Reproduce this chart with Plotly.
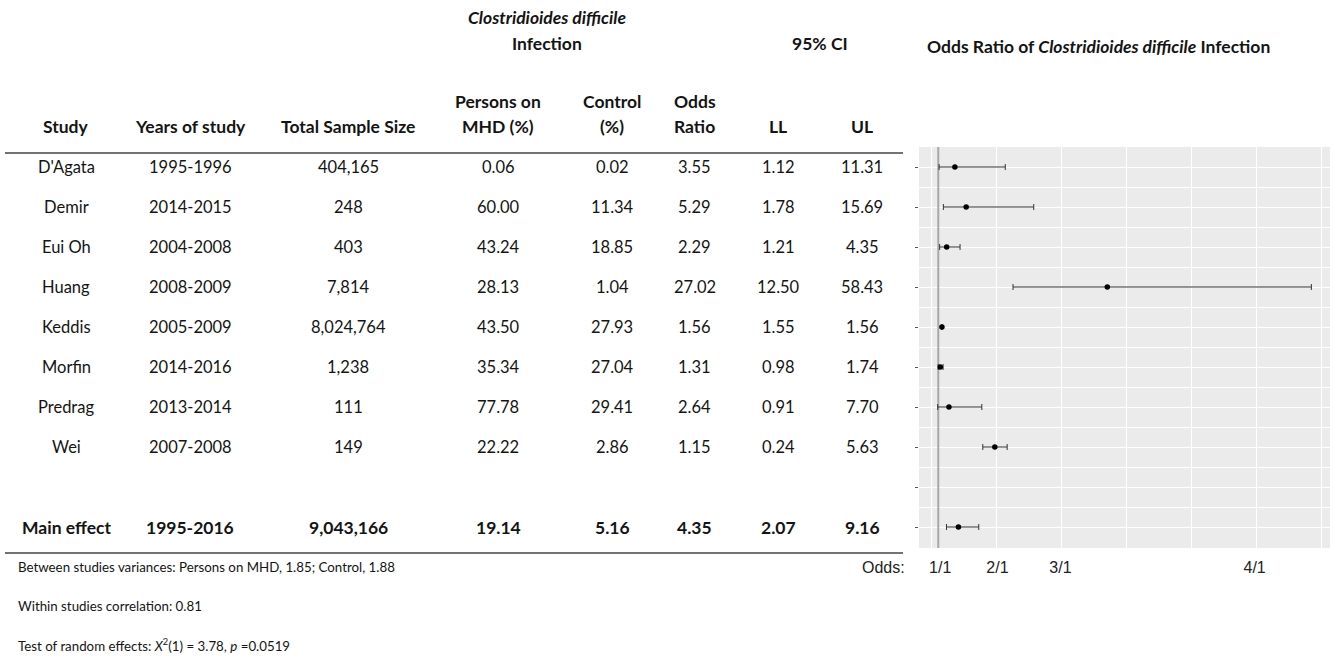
import plotly.graph_objects as go

W, H = 1333, 658

# ---------------- data ----------------
studies = ["D'Agata", "Demir", "Eui Oh", "Huang", "Keddis", "Morfin", "Predrag", "Wei"]
years = ["1995-1996", "2014-2015", "2004-2008", "2008-2009", "2005-2009", "2014-2016", "2013-2014", "2007-2008"]
sample_size = [404165, 248, 403, 7814, 8024764, 1238, 111, 149]
persons_mhd = [0.06, 60.00, 43.24, 28.13, 43.50, 35.34, 77.78, 22.22]
control_pct = [0.02, 11.34, 18.85, 1.04, 27.93, 27.04, 29.41, 2.86]
odds_ratio = [3.55, 5.29, 2.29, 27.02, 1.56, 1.31, 2.64, 1.15]
ci_ll = [1.12, 1.78, 1.21, 12.50, 1.55, 0.98, 0.91, 0.24]
ci_ul = [11.31, 15.69, 4.35, 58.43, 1.56, 1.74, 7.70, 5.63]

main_label = "Main effect"
main_years = "1995-2016"
main_size = 9043166
main_mhd = 19.14
main_control = 5.16
main_or = 4.35
main_ll = 2.07
main_ul = 9.16

# values as drawn in the forest panel
plot_rows = [0, 1, 2, 3, 4, 5, 6, 7, 9]
plot_or = [3.55, 5.29, 2.29, 27.02, 1.56, 1.31, 2.64, 9.7, 4.1]
plot_ll = [1.12, 1.78, 1.21, 12.50, 1.55, 0.98, 0.91, 7.85, 2.26]
plot_ul = [11.31, 15.69, 4.35, 58.43, 1.56, 1.74, 7.70, 11.6, 7.23]
reference_or = 1

axis_tick_pos = [1.3, 10.1, 19.8, 49.7]
axis_tick_text = ["1/1", "2/1", "3/1", "4/1"]

footer_lines = [
    "Between studies variances: Persons on MHD, 1.85; Control, 1.88",
    "Within studies correlation: 0.81",
    "Test of random effects: <i>X</i><sup>2</sup>(1) = 3.78, <i>p</i> =0.0519",
]

# ---------------- layout helpers ----------------
FONT = "Lato"
FS = 16.5
FSB = 17.5
TXT = "#141414"

col_x = [66, 190, 348, 498, 612, 695, 778, 862]


def px(x):
    return x / W


def py(y):
    return 1 - y / H


annotations = []


def add_text(x, y, text, size=FS, yref="paper", xanchor="center", font=FONT, color=TXT):
    annotations.append(dict(
        x=px(x), y=(py(y) if yref == "paper" else y), xref="paper", yref=yref,
        text=text, showarrow=False, xanchor=xanchor, yanchor="middle",
        font=dict(family=font, size=size, color=color),
    ))


# top headers
add_text(547, 18, "<b><i>Clostridioides difficile</i></b>", size=FSB)
add_text(547, 44, "<b>Infection</b>", size=FSB)
add_text(820, 44, "<b>95% CI</b>", size=FSB)
add_text(1098, 47, "<b>Odds Ratio of <i>Clostridioides difficile</i> Infection</b>", size=FSB)

# column headers
add_text(col_x[0], 127, "<b>Study</b>", size=FSB)
add_text(col_x[1], 127, "<b>Years of study</b>", size=FSB)
add_text(col_x[2], 127, "<b>Total Sample Size</b>", size=FSB)
add_text(col_x[3], 101, "<b>Persons on</b>", size=FSB)
add_text(col_x[3], 127, "<b>MHD (%)</b>", size=FSB)
add_text(col_x[4], 101, "<b>Control</b>", size=FSB)
add_text(col_x[4], 127, "<b>(%)</b>", size=FSB)
add_text(col_x[5], 101, "<b>Odds</b>", size=FSB)
add_text(col_x[5], 127, "<b>Ratio</b>", size=FSB)
add_text(col_x[6], 127, "<b>LL</b>", size=FSB)
add_text(col_x[7], 127, "<b>UL</b>", size=FSB)

# body rows
for i in range(len(studies)):
    vals = [studies[i], years[i], f"{sample_size[i]:,}", f"{persons_mhd[i]:.2f}",
            f"{control_pct[i]:.2f}", f"{odds_ratio[i]:.2f}", f"{ci_ll[i]:.2f}", f"{ci_ul[i]:.2f}"]
    for cx, v in zip(col_x, vals):
        add_text(cx, i, v, yref="y")

main_vals = [main_label, main_years, f"{main_size:,}", f"{main_mhd:.2f}", f"{main_control:.2f}",
             f"{main_or:.2f}", f"{main_ll:.2f}", f"{main_ul:.2f}"]
for cx, v in zip(col_x, main_vals):
    add_text(cx, 9, f"<b>{v}</b>", yref="y", size=FSB)

# footer
for k, line in enumerate(footer_lines):
    add_text(16, 567 + 39 * k, line, size=13.3, xanchor="left")

# "Odds:" label
add_text(907, 567, "Odds:", size=16, xanchor="right", font="Liberation Sans", color="#222")

# ---------------- figure ----------------
fig = go.Figure()
fig.add_trace(go.Scatter(
    x=[reference_or, reference_or], y=[-0.5, 9.525], mode="lines",
    line=dict(color="#a8a8a8", width=2), showlegend=False, hoverinfo="skip",
))
fig.add_trace(go.Scatter(
    x=plot_or, y=plot_rows, mode="markers",
    marker=dict(color="black", size=5.5),
    error_x=dict(type="data", symmetric=False,
                 array=[u - o for u, o in zip(plot_ul, plot_or)],
                 arrayminus=[o - l for o, l in zip(plot_or, plot_ll)],
                 color="#333333", thickness=1, width=3),
    showlegend=False, hoverinfo="skip",
))

shapes = [
    dict(type="line", xref="paper", yref="paper", x0=px(5), x1=px(903), y0=py(153), y1=py(153),
         line=dict(color="#444444", width=1.5)),
    dict(type="line", xref="paper", yref="paper", x0=px(5), x1=px(903), y0=py(553), y1=py(553),
         line=dict(color="#444444", width=1.5)),
]

fig.update_layout(
    width=W, height=H, autosize=False,
    margin=dict(l=0, r=0, t=0, b=0),
    paper_bgcolor="white", plot_bgcolor="#EBEBEB",
    annotations=annotations, shapes=shapes,
    xaxis=dict(
        domain=[px(919), px(1330)], range=[-1.97, 61.3],
        tickvals=axis_tick_pos, ticktext=axis_tick_text,
        showgrid=False, zeroline=False, ticks="", showline=False,
        ticklabelstandoff=8,
        tickfont=dict(family="Liberation Sans", size=16, color="#222"),
        minor=dict(tickvals=[0, 10, 20, 30, 40, 50, 60], showgrid=True,
                   gridcolor="white", gridwidth=1.2, ticks=""),
        fixedrange=True,
    ),
    yaxis=dict(
        domain=[py(548), py(147)], range=[9.525, -0.5],
        tickvals=list(range(10)), showticklabels=False,
        ticks="outside", ticklen=3, tickcolor="#555", tickwidth=1,
        showgrid=True, gridcolor="white", gridwidth=1.2, zeroline=False,
        minor=dict(tickvals=[i + 0.5 for i in range(-1, 10)], showgrid=True,
                   gridcolor="white", gridwidth=0.6, ticks=""),
        fixedrange=True,
    ),
)

fig.write_html("out.html", config={"displayModeBar": False},
               post_script="document.body.style.margin='0px';")
